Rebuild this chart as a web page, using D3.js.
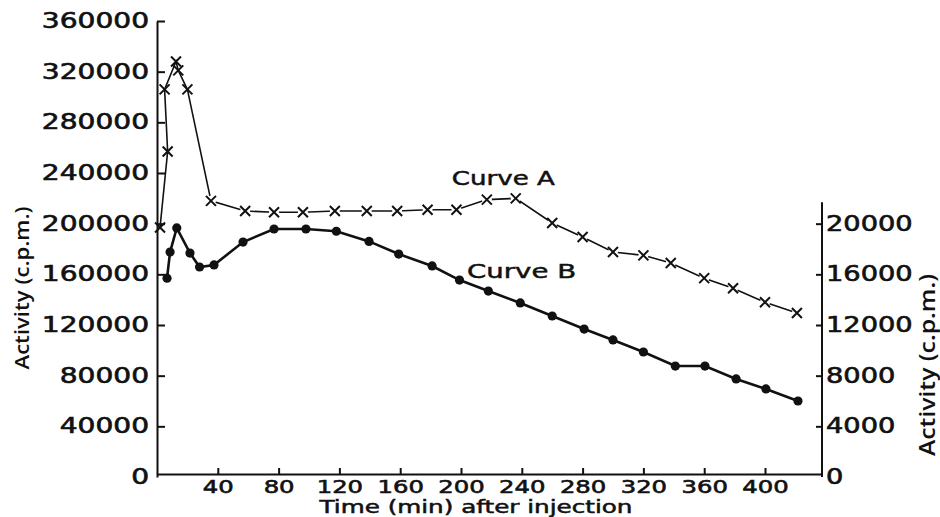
<!DOCTYPE html>
<html>
<head>
<meta charset="utf-8">
<script src="https://cdn.jsdelivr.net/npm/d3@7"></script>
<style>
  body { margin: 0; background: #fff; }
  .axis text { font-family: "DejaVu Sans", sans-serif; fill: #111; stroke: #111; stroke-width: 0.6; }
  .axis path, .axis line { stroke: #111; stroke-width: 2; }
  .ttl { font-family: "Open Sans", sans-serif; font-weight: 600; fill: #111; }
  .lbl { font-family: "DejaVu Sans", sans-serif; fill: #111; stroke: #111; stroke-width: 0.5; }
</style>
</head>
<body>
<div id="vis"></div>
<script>
// frame
const FRAME_WIDTH = 940;
const FRAME_HEIGHT = 517;

// tick labels
const LEFT_TICKS = [0, 40000, 80000, 120000, 160000, 200000, 240000, 280000, 320000, 360000];
const RIGHT_TICKS = [0, 4000, 8000, 12000, 16000, 20000];
const TIME_TICKS = [40, 80, 120, 160, 200, 240, 280, 320, 360, 400];

// Curve A (crosses, left axis) - drawn in the order the pen went
const TIME_A = [2, 7, 5, 12.5, 14, 20, 35.5, 58, 77, 96, 117, 138, 158, 178, 197,
                217, 236, 260, 280, 300, 320, 338, 360, 379, 400, 421];
const CURVE_A = [197000, 257000, 306000, 328000, 321000, 306000, 218000, 210000, 209000,
                 209000, 210000, 210000, 210000, 211000, 211000, 219000, 220000, 200500,
                 189500, 177600, 175000, 169000, 157000, 149000, 138000, 129500];

// Curve B (dots, right axis)
const TIME_B = [6.6, 8.6, 13, 21.7, 28, 37.5, 56.6, 77, 98, 118, 139.5, 159, 181, 199,
                218, 239, 260, 281, 300, 320, 341, 360.5, 381, 400.6, 421.7];
const CURVE_B = [15700, 17760, 19660, 17680, 16580, 16740, 18550, 19580, 19580, 19400,
                 18600, 17600, 16660, 15550, 14680, 13740, 12710, 11680, 10820, 9870,
                 8760, 8760, 7740, 6950, 6000];

const FRAME = d3.select("#vis")
  .append("svg")
    .attr("width", FRAME_WIDTH)
    .attr("height", FRAME_HEIGHT);

// scales
const X_SCALE = d3.scaleLinear().domain([0, 437.5]).range([157, 822]);
const Y_LEFT = d3.scaleLinear().domain([0, 360000]).range([477, 21]);
const Y_RIGHT = d3.scaleLinear().domain([0, 36000]).range([477, 21]);
const RIGHT_TOP = 21700; // where the right axis line stops

// stretch the digits a bit so they look like the old lettering
function styleTicks(g, size, sx, pad, side) {
  g.selectAll(".tick text")
    .attr("font-size", size)
    .attr("transform", "scale(" + sx + ",1)")
    .attr("x", side * pad / sx);
}

// left axis
const LEFT_AXIS = FRAME.append("g")
    .attr("class", "axis")
    .attr("transform", "translate(" + X_SCALE(0) + ",0)")
    .call(d3.axisLeft(Y_LEFT).tickValues(LEFT_TICKS).tickFormat(d3.format("d"))
            .tickSizeInner(-8).tickSizeOuter(0).tickPadding(8));
styleTicks(LEFT_AXIS, 20.5, 1.37, 8, -1);
LEFT_AXIS.selectAll(".tick line").filter((d) => d === 0).remove();

// right axis
const RIGHT_AXIS = FRAME.append("g")
    .attr("class", "axis")
    .attr("transform", "translate(" + X_SCALE(437.5) + ",0)")
    .call(d3.axisRight(Y_RIGHT).tickValues(RIGHT_TICKS).tickFormat(d3.format("d"))
            .tickSizeInner(-6).tickSizeOuter(0).tickPadding(4));
styleTicks(RIGHT_AXIS, 20.5, 1.33, 4, 1);
RIGHT_AXIS.selectAll(".tick line").filter((d) => d === 0).remove();
RIGHT_AXIS.select(".domain")
    .attr("d", "M0," + Y_RIGHT(0) + "V" + Y_RIGHT(RIGHT_TOP));

// bottom axis
const BOTTOM_AXIS = FRAME.append("g")
    .attr("class", "axis")
    .attr("transform", "translate(0,474)")
    .call(d3.axisBottom(X_SCALE).tickValues(TIME_TICKS)
            .tickSizeInner(-6).tickSizeOuter(0).tickPadding(6));
BOTTOM_AXIS.selectAll(".tick text")
    .attr("font-size", 18)
    .attr("transform", "scale(1.35,1)");

// curve A
const ptsA = d3.zip(TIME_A, CURVE_A);
FRAME.append("path")
    .datum(ptsA)
    .attr("fill", "none")
    .attr("stroke", "#111")
    .attr("stroke-width", 1.6)
    .attr("d", d3.line().x((d) => X_SCALE(d[0])).y((d) => Y_LEFT(d[1])));

FRAME.selectAll(".halo")
    .data(ptsA.slice(6))
    .enter()
    .append("circle")
      .attr("cx", (d) => X_SCALE(d[0]))
      .attr("cy", (d) => Y_LEFT(d[1]))
      .attr("r", 5)
      .attr("fill", "#fff");

FRAME.selectAll(".cross")
    .data(ptsA)
    .enter()
    .append("path")
      .attr("transform", (d) => "translate(" + X_SCALE(d[0]) + "," + Y_LEFT(d[1]) + ")")
      .attr("d", "M-5,-5L5,5M-5,5L5,-5")
      .attr("stroke", "#111")
      .attr("stroke-width", 2)
      .attr("fill", "none");

// curve B
const ptsB = d3.zip(TIME_B, CURVE_B);
FRAME.append("path")
    .datum(ptsB)
    .attr("fill", "none")
    .attr("stroke", "#111")
    .attr("stroke-width", 2.6)
    .attr("d", d3.line().x((d) => X_SCALE(d[0])).y((d) => Y_RIGHT(d[1])));

FRAME.selectAll(".dot")
    .data(ptsB)
    .enter()
    .append("circle")
      .attr("cx", (d) => X_SCALE(d[0]))
      .attr("cy", (d) => Y_RIGHT(d[1]))
      .attr("r", 4.6)
      .attr("fill", "#111");

// curve names
FRAME.append("text")
    .attr("class", "lbl")
    .attr("x", X_SCALE(194))
    .attr("y", Y_LEFT(230500))
    .attr("font-size", 20)
    .attr("textLength", 103)
    .attr("lengthAdjust", "spacingAndGlyphs")
    .text("Curve A");

FRAME.append("text")
    .attr("class", "lbl")
    .attr("x", X_SCALE(204))
    .attr("y", Y_RIGHT(15710))
    .attr("font-size", 20)
    .attr("textLength", 109)
    .attr("lengthAdjust", "spacingAndGlyphs")
    .text("Curve B");

// axis titles
FRAME.append("text")
    .attr("class", "lbl")
    .attr("x", 476)
    .attr("y", 513)
    .attr("text-anchor", "middle")
    .attr("font-size", 17)
    .attr("textLength", 313)
    .attr("lengthAdjust", "spacingAndGlyphs")
    .text("Time (min) after injection");

FRAME.append("text")
    .attr("class", "ttl")
    .attr("transform", "translate(29,288) rotate(-90)")
    .attr("text-anchor", "middle")
    .attr("font-size", 20)
    .attr("textLength", 163)
    .attr("lengthAdjust", "spacingAndGlyphs")
    .text("Activity (c.p.m.)");

FRAME.append("text")
    .attr("class", "ttl")
    .attr("transform", "translate(935,365) rotate(-90)")
    .attr("text-anchor", "middle")
    .attr("font-size", 21.5)
    .attr("textLength", 182)
    .attr("lengthAdjust", "spacingAndGlyphs")
    .text("Activity (c.p.m.)");
</script>
</body>
</html>
